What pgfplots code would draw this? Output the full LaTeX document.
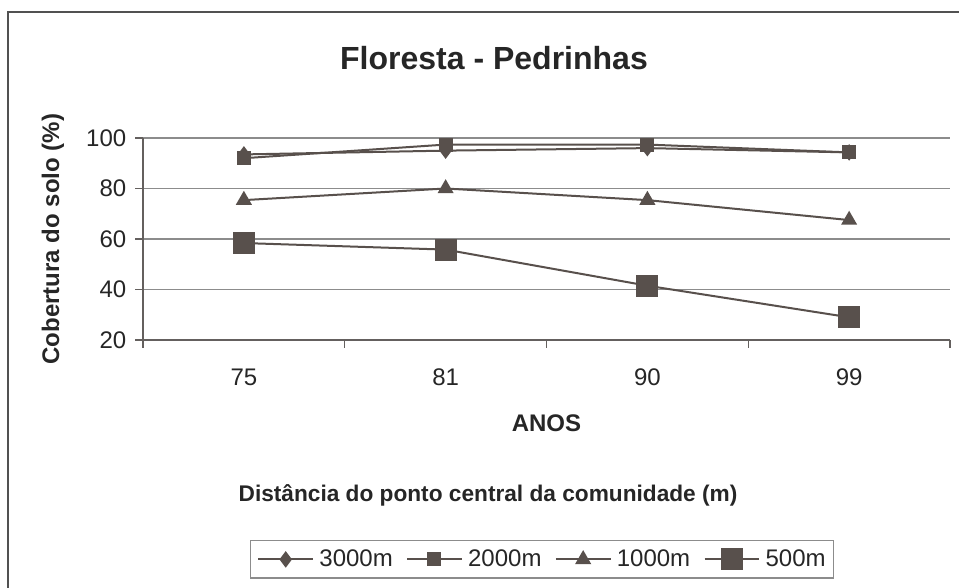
\documentclass[border=0pt]{standalone}
\usepackage{fontspec}
\setmainfont{Liberation Sans}
\usepackage{pgfplots}
\pgfplotsset{compat=1.18}
\definecolor{serie}{RGB}{88,80,76}
\definecolor{grade}{RGB}{140,140,140}
\definecolor{eixo}{RGB}{100,96,94}
\definecolor{texto}{RGB}{38,38,38}
\begin{document}
\begin{tikzpicture}[x=0.75pt,y=0.75pt]
\clip (0,0) rectangle (959,588);
\fill[white] (0,0) rectangle (959,588);
% moldura externa do gráfico
\draw[line width=1.5pt,color=texto!80] (8,-20) -- (8,576) -- (1000,576);
\node[font=\bfseries\fontsize{24}{28}\selectfont,text=texto] at (494,530) {Floresta - Pedrinhas};
\node[font=\bfseries\fontsize{17}{20}\selectfont,text=texto] at (488,93) {Distância do ponto central da comunidade (m)};
\begin{axis}[
  at={(107.25pt,186pt)}, anchor=south west,
  scale only axis, width=605.25pt, height=151.5pt,
  xmin=-0.5, xmax=3.5, ymin=20, ymax=100,
  axis x line*=bottom, axis y line*=left,
  axis line style={draw=eixo,line width=1.1pt},
  tick align=outside,
  major tick length=6pt,
  tick style={draw=eixo,line width=1pt},
  xtick={-0.5,0.5,1.5,2.5,3.5}, xticklabels={},
  extra x ticks={0,1,2,3},
  extra x tick labels={75,81,90,99},
  extra x tick style={major tick length=0pt, grid=none,
     tick label style={yshift=-18pt}},
  ytick={20,40,60,80,100},
  ymajorgrids,
  grid style={draw=grade,line width=1.1pt},
  /pgf/number format/assume math mode=true,
  tick label style={font=\fontsize{18}{20}\selectfont,text=texto},
  yticklabel style={xshift=-3pt},
  xlabel={ANOS},
  ylabel={Cobertura do solo (\%)},
  label style={font=\bfseries\fontsize{18}{20}\selectfont,text=texto},
  xlabel style={at={(axis description cs:0.5,-0.413)},anchor=center},
  ylabel style={at={(axis description cs:-0.1115,0.5)},anchor=center},
  legend columns=4,
  legend style={at={(axis description cs:0.1326,-0.990)},anchor=north west,
     draw=grade,line width=1.1pt,
     font=\fontsize{18}{20}\selectfont,text=texto,
     inner xsep=5pt, inner ysep=6pt,
     nodes={inner sep=1pt},
     /tikz/every odd column/.append style={column sep=3pt},
     /tikz/every even column/.append style={column sep=9pt}},
  legend image code/.code={\draw[mark repeat=2,mark phase=2,#1]
     plot coordinates {(0pt,0pt) (20.5pt,0pt) (41pt,0pt)};},
  every axis plot/.append style={color=serie,line width=1.5pt,
     mark options={solid,fill=serie}},
]
\addplot[mark=diamond*, mark size=5pt] coordinates {(0,93.5) (1,95) (2,96) (3,94.3)};
\addlegendentry{3000m}
\addplot[mark=square*, mark size=4.5pt] coordinates {(0,92) (1,97.4) (2,97.4) (3,94.3)};
\addlegendentry{2000m}
\addplot[mark=triangle*, mark size=5.5pt] coordinates {(0,75.4) (1,80) (2,75.4) (3,67.5)};
\addlegendentry{1000m}
\addplot[mark=square*, mark size=7.5pt] coordinates {(0,58.4) (1,55.8) (2,41.5) (3,29)};
\addlegendentry{500m}
\end{axis}
\end{tikzpicture}
\end{document}
